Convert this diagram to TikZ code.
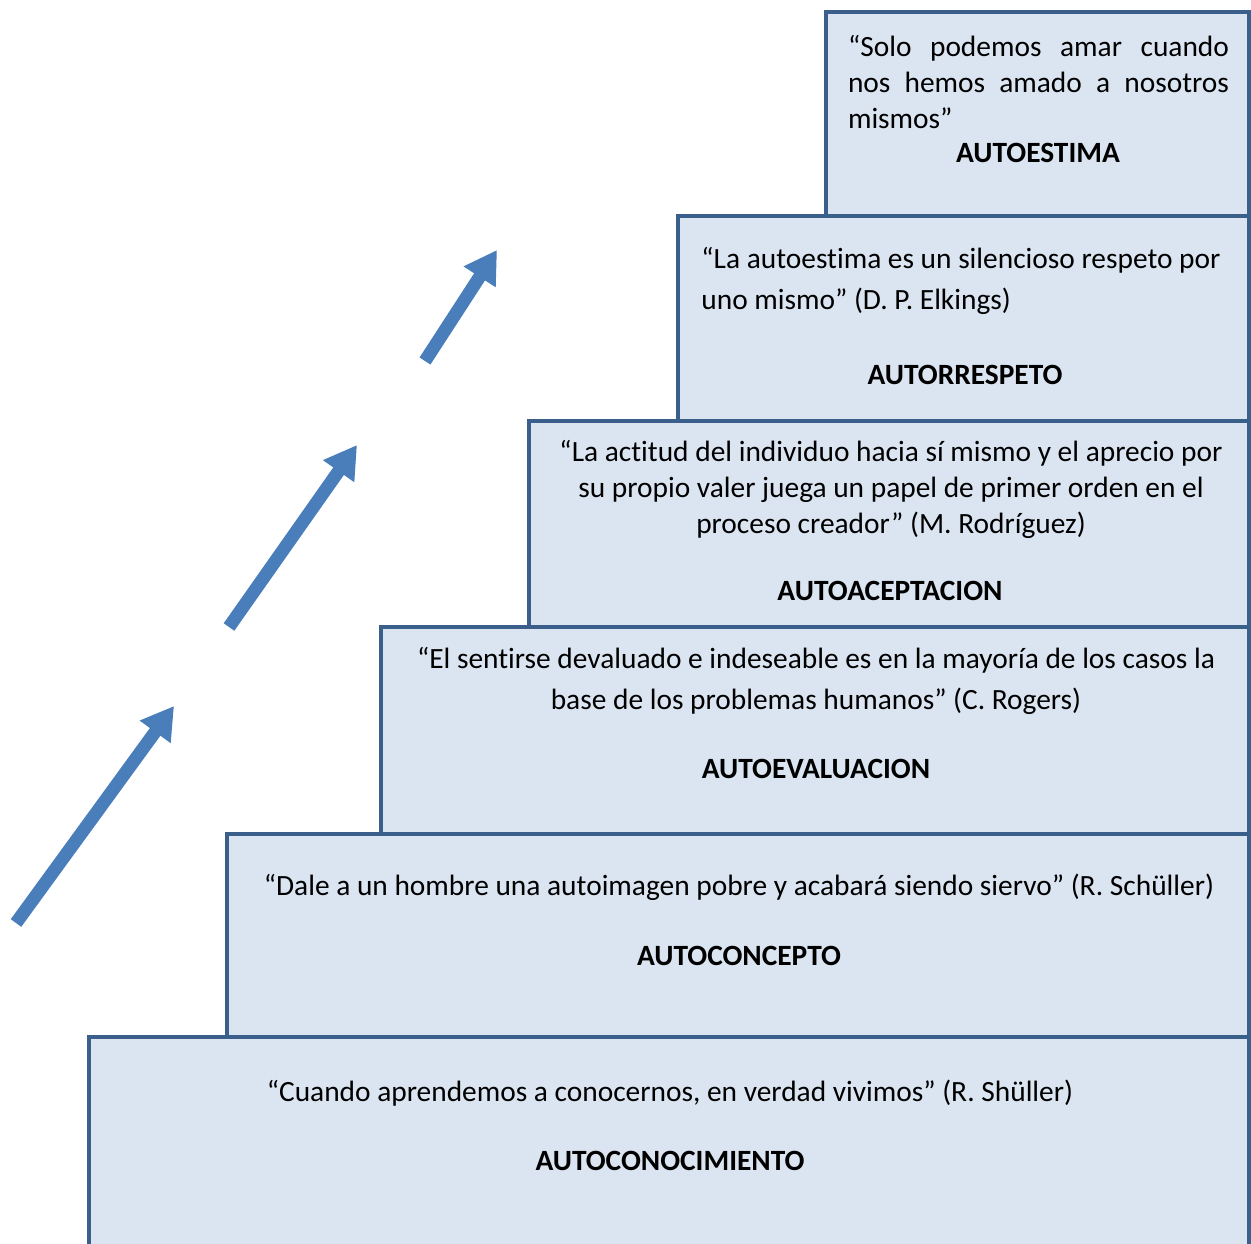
\documentclass[tikz,border=0pt]{standalone}
\usepackage{fontspec}
\setmainfont[Ligatures={NoCommon}]{Carlito}
\usetikzlibrary{arrows.meta}
\definecolor{boxline}{HTML}{3A5F8B}
\definecolor{boxfill}{HTML}{DBE5F1}
\definecolor{climbblue}{HTML}{4A7EBB}
\tikzset{
  stepbox/.style={draw=boxline, fill=boxfill, line width=2pt},
  climb/.style={-{Triangle[length=16pt,width=18pt]}, line width=6.5pt, draw=climbblue},
  quote/.style={inner sep=0pt},
  title/.style={inner sep=0pt, font=\fontsize{14.7}{18}\selectfont\bfseries}
}
\begin{document}
\begin{tikzpicture}[x=0.5pt,y=-0.5pt,font=\fontsize{14.7}{18}\selectfont]
\useasboundingbox (0,0) rectangle (1251,1243);
\coordinate (A1) at (826,12);
\coordinate (A2) at (678,216);
\coordinate (A3) at (529,421);
\coordinate (A4) at (381,627);
\coordinate (A5) at (227,834);
\coordinate (A6) at (89,1037);

% steps, top to bottom
\draw[stepbox] (A1) rectangle (1249,216);
\draw[stepbox] (A2) rectangle (1249,421);
\draw[stepbox] (A3) rectangle (1249,627);
\draw[stepbox] (A4) rectangle (1249,834);
\draw[stepbox] (A5) rectangle (1249,1037);
\draw[stepbox] (A6) rectangle (1249,1270);

\node[quote, text width=190.5pt, align=justify] (Q1) at (1038.5,82)
  {“Solo podemos amar cuando\linebreak nos hemos amado a nosotros\linebreak mismos”};
\node[title] (T1) at (1038,153) {AUTOESTIMA};

\node[quote, anchor=west, align=left, font=\fontsize{14.7}{20.5}\selectfont] (Q2) at (701,281)
  {“La autoestima es un silencioso respeto por\\uno mismo” (D. P. Elkings)};
\node[title] (T2) at (965,375) {AUTORRESPETO};

\node[quote, align=center] (Q3) at (891,489)
  {“La actitud del individuo hacia sí mismo y el aprecio por\\su propio valer juega un papel de primer orden en el\\proceso creador” (M. Rodríguez)};
\node[title] (T3) at (890,591) {AUTOACEPTACION};

\node[quote, align=center, font=\fontsize{14.7}{20.5}\selectfont] (Q4) at (816,681)
  {“El sentirse devaluado e indeseable es en la mayoría de los casos la\\base de los problemas humanos” (C. Rogers)};
\node[title] (T4) at (816,769) {AUTOEVALUACION};

\node[quote] (Q5) at (739,887) {“Dale a un hombre una autoimagen pobre y acabará siendo siervo” (R. Schüller)};
\node[title] (T5) at (739,956) {AUTOCONCEPTO};

\node[quote] (Q6) at (670,1093) {“Cuando aprendemos a conocernos, en verdad vivimos” (R. Shüller)};
\node[title] (T6) at (670,1161) {AUTOCONOCIMIENTO};

% arrows going up
\coordinate (S1) at (16,923);
\coordinate (E1) at (174,706);
\coordinate (S2) at (229,627);
\coordinate (E2) at (357,445);
\coordinate (S3) at (425,361);
\coordinate (E3) at (497,250);
\draw[climb] (S1) -- (E1);
\draw[climb] (S2) -- (E2);
\draw[climb] (S3) -- (E3);
\end{tikzpicture}
\end{document}
